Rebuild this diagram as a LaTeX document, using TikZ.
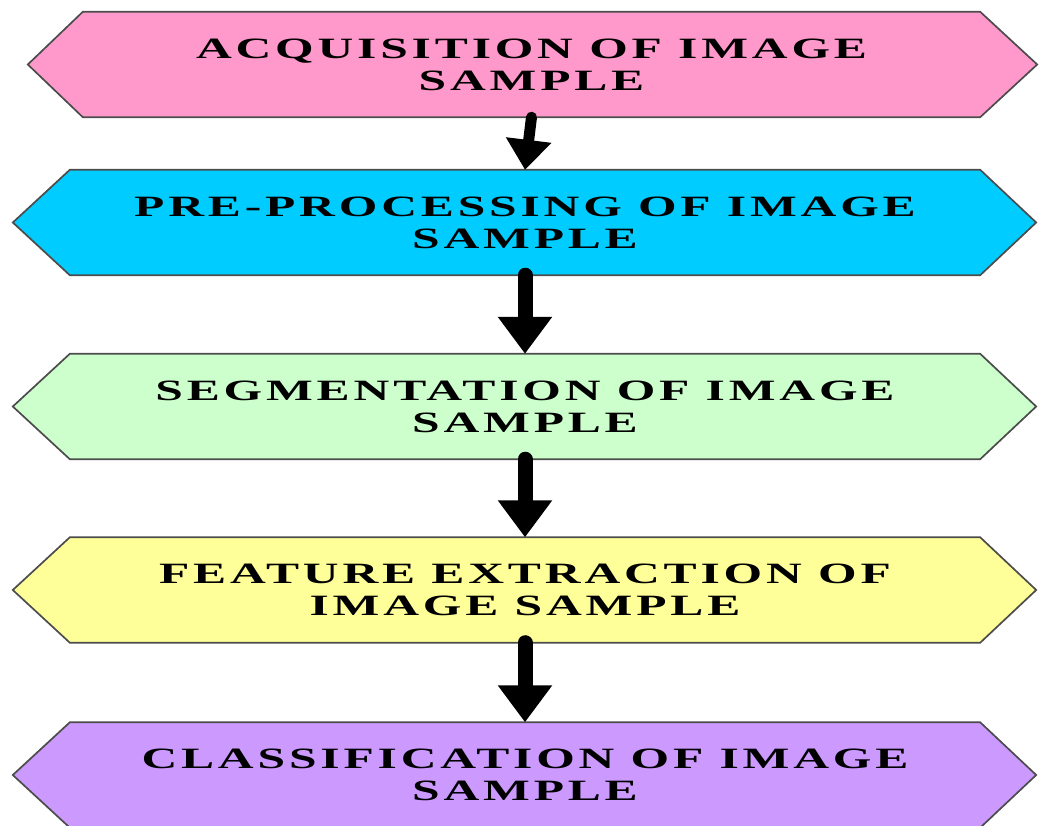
\documentclass[tikz,border=0pt]{standalone}
\usepackage{fontspec}
\usepackage{tikz}
\usetikzlibrary{arrows.meta,backgrounds,calc}
\newfontfamily\stagefont{Liberation Serif Bold}[FakeStretch=1.68,LetterSpace=13]
\definecolor{acqcol}{HTML}{FF99CC}
\definecolor{precol}{HTML}{00CCFF}
\definecolor{segcol}{HTML}{CCFFCC}
\definecolor{feacol}{HTML}{FFFF99}
\definecolor{clscol}{HTML}{CC99FF}

\begin{document}
\begin{tikzpicture}[x=1pt,y=-1pt,
  stage/.style={minimum width=910pt,minimum height=105pt,inner sep=0pt,align=center,
    font=\stagefont\fontsize{29.5}{32}\selectfont},
  hexline/.style={draw=black!70,line width=1.7pt,line join=miter},
  flow/.style={line width=15pt,line cap=round,-{Triangle[width=52pt,length=37pt]}}]
  \useasboundingbox (0,0) rectangle (1047,825);
  \node[stage,minimum width=897pt] (acq) at (531.5,64.5) {ACQUISITION OF IMAGE\\SAMPLE};
  \node[stage] (pre) at (525,222.5) {PRE-PROCESSING OF IMAGE\\SAMPLE};
  \node[stage] (seg) at (525,406.5) {SEGMENTATION OF IMAGE\\SAMPLE};
  \node[stage] (fea) at (525,590) {FEATURE EXTRACTION OF\\IMAGE SAMPLE};
  \node[stage] (cls) at (525,775) {CLASSIFICATION OF IMAGE\\SAMPLE};

  \begin{scope}[on background layer]
    \draw[hexline,fill=acqcol] ($(acq.west)+(-55,0)$) -- (acq.north west) -- (acq.north east)
      -- ($(acq.east)+(57,0)$) -- (acq.south east) -- (acq.south west) -- cycle;
    \foreach \n in {pre,seg,fea,cls}
      \draw[hexline,fill=\n col] ($(\n.west)+(-57,0)$) -- (\n.north west) -- (\n.north east)
        -- ($(\n.east)+(56,0)$) -- (\n.south east) -- (\n.south west) -- cycle;
  \end{scope}

  \draw[flow,line width=11pt,-{Triangle[width=44pt,length=30pt]}] (acq.south) -- (pre.north);
  \draw[flow] (pre) -- (seg);
  \draw[flow] (seg) -- (fea);
  \draw[flow] (fea) -- (cls);
\end{tikzpicture}
\end{document}
